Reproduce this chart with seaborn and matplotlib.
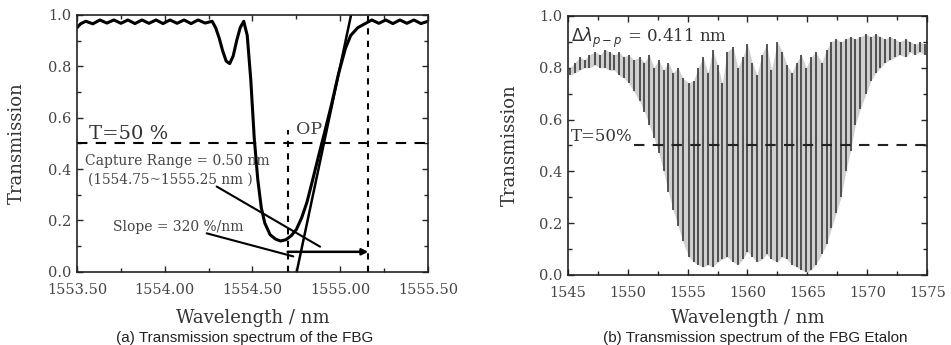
import numpy as np
import pandas as pd
import matplotlib
matplotlib.use('Agg')
import matplotlib.pyplot as plt
from matplotlib.ticker import MultipleLocator
import seaborn as sns

# (a) FBG transmission spectrum
fbg_wl = [1553.50, 1553.52, 1553.55, 1553.59, 1553.63, 1553.67, 1553.71, 1553.75, 1553.79, 1553.83,
          1553.87, 1553.91, 1553.95, 1553.99, 1554.03, 1554.07, 1554.11, 1554.15, 1554.19, 1554.23,
          1554.27, 1554.29, 1554.31, 1554.33, 1554.35, 1554.37, 1554.39, 1554.41, 1554.43, 1554.45,
          1554.47, 1554.49, 1554.51, 1554.53, 1554.55, 1554.57, 1554.60, 1554.63, 1554.66, 1554.69,
          1554.72, 1554.75, 1554.78, 1554.81, 1554.84, 1554.88, 1554.91, 1554.95, 1554.99, 1555.03,
          1555.06, 1555.10, 1555.14, 1555.18, 1555.22, 1555.26, 1555.30, 1555.34, 1555.38, 1555.42,
          1555.46, 1555.50]
fbg_t = [0.95, 0.965, 0.975, 0.965, 0.98, 0.968, 0.98, 0.967, 0.98, 0.966,
         0.98, 0.967, 0.98, 0.966, 0.98, 0.967, 0.98, 0.966, 0.98, 0.968,
         0.975, 0.95, 0.91, 0.86, 0.82, 0.81, 0.84, 0.90, 0.95, 0.975,
         0.92, 0.75, 0.52, 0.36, 0.25, 0.19, 0.145, 0.128, 0.12, 0.125,
         0.14, 0.165, 0.21, 0.27, 0.35, 0.46, 0.54, 0.65, 0.77, 0.87,
         0.92, 0.95, 0.965, 0.98, 0.967, 0.98, 0.966, 0.98, 0.967, 0.98,
         0.966, 0.975]

# slope (tangent) line and capture-range markers
slope_wl = [1554.752, 1555.062]
slope_t = [0.0, 1.0]
capture_wl = [1554.70, 1555.16]
capture_top = [0.55, 1.0]
arrow_t = 0.078

# (b) FBG etalon: fringe positions with peak and dip transmission
etalon_wl = [1545.2, 1545.6, 1546.0, 1546.4, 1546.8, 1547.3, 1547.7, 1548.1, 1548.5, 1548.9,
             1549.3, 1549.7, 1550.1, 1550.5, 1551.0, 1551.4, 1551.8, 1552.2, 1552.6, 1553.0,
             1553.4, 1553.8, 1554.2, 1554.6, 1555.1, 1555.5, 1555.9, 1556.3, 1556.7, 1557.1,
             1557.5, 1557.9, 1558.3, 1558.8, 1559.2, 1559.6, 1560.0, 1560.4, 1560.8, 1561.2,
             1561.6, 1562.0, 1562.5, 1562.9, 1563.3, 1563.7, 1564.1, 1564.5, 1564.9, 1565.3,
             1565.7, 1566.2, 1566.6, 1567.0, 1567.4, 1567.8, 1568.2, 1568.6, 1569.0, 1569.4,
             1569.9, 1570.3, 1570.7, 1571.1, 1571.5, 1571.9, 1572.3, 1572.7, 1573.2, 1573.6,
             1574.0, 1574.4, 1574.8]
etalon_top = [0.80, 0.82, 0.84, 0.83, 0.85, 0.86, 0.85, 0.87, 0.86, 0.85,
              0.86, 0.84, 0.85, 0.83, 0.84, 0.82, 0.85, 0.80, 0.83, 0.79,
              0.82, 0.78, 0.80, 0.76, 0.74, 0.75, 0.80, 0.84, 0.78, 0.87,
              0.81, 0.74, 0.86, 0.88, 0.80, 0.84, 0.89, 0.82, 0.77, 0.85,
              0.89, 0.79, 0.90, 0.86, 0.81, 0.78, 0.82, 0.85, 0.80, 0.84,
              0.86, 0.82, 0.87, 0.90, 0.91, 0.90, 0.91, 0.92, 0.91, 0.92,
              0.93, 0.92, 0.93, 0.92, 0.91, 0.92, 0.91, 0.90, 0.91, 0.90,
              0.89, 0.90, 0.89]
etalon_bottom = [0.77, 0.78, 0.79, 0.80, 0.80, 0.81, 0.80, 0.80, 0.79, 0.79,
                 0.77, 0.76, 0.74, 0.71, 0.67, 0.63, 0.58, 0.53, 0.47, 0.40,
                 0.32, 0.25, 0.19, 0.13, 0.07, 0.05, 0.04, 0.03, 0.04, 0.03,
                 0.05, 0.06, 0.07, 0.05, 0.04, 0.06, 0.09, 0.07, 0.05, 0.06,
                 0.08, 0.06, 0.05, 0.07, 0.06, 0.04, 0.03, 0.02, 0.01, 0.02,
                 0.04, 0.08, 0.12, 0.18, 0.24, 0.30, 0.40, 0.48, 0.58, 0.64,
                 0.70, 0.75, 0.78, 0.80, 0.82, 0.83, 0.84, 0.85, 0.84, 0.86,
                 0.85, 0.86, 0.85]

fbg = pd.DataFrame({'wl': fbg_wl, 't': fbg_t})
etalon = pd.DataFrame({'wl': etalon_wl, 'top': etalon_top, 'bottom': etalon_bottom})

sns.set_style('ticks')
plt.rcParams['font.family'] = ['DejaVu Serif']

fig = plt.figure(figsize=(9.51, 3.45), dpi=100)
ax1 = fig.add_axes([0.081, 0.212, 0.369, 0.745])
ax2 = fig.add_axes([0.597, 0.203, 0.378, 0.751])

label_font = dict(family='DejaVu Serif', fontsize=13, color='#333333')
cap_font = dict(family='Liberation Sans', fontsize=11, color='#222222')
note_color = '#444444'

# ---- panel (a)
sns.lineplot(data=fbg, x='wl', y='t', color='black', lw=2.2, ax=ax1,
             estimator=None, sort=False)
ax1.plot(slope_wl, slope_t, color='black', lw=1.8)
ax1.axhline(0.5, color='black', lw=1.5, ls=(0, (5, 4)))
ax1.vlines(capture_wl, 0, capture_top, color='black', lw=1.5, ls=(0, (3, 3)))
ax1.annotate('', xy=(capture_wl[1], arrow_t), xytext=(capture_wl[0], arrow_t),
             arrowprops=dict(arrowstyle='-|>', color='black', lw=1.8, mutation_scale=9,
                             shrinkA=0, shrinkB=0))
ax1.plot([1554.296, 1554.885], [0.332, 0.098], color='black', lw=1.5)
ax1.plot([1554.239, 1554.733], [0.150, 0.060], color='black', lw=1.5)
ax1.text(1553.57, 0.50, 'T=50 %', fontsize=14, color='#333333', va='bottom')
ax1.text(1554.75, 0.52, 'OP', fontsize=12.5, color=note_color, va='bottom')
ax1.text(1553.545, 0.43, 'Capture Range = 0.50 nm', fontsize=10, color=note_color, va='center')
ax1.text(1553.56, 0.36, '(1554.75~1555.25 nm )', fontsize=9.8, color=note_color, va='center')
ax1.text(1553.705, 0.175, 'Slope = 320 %/nm', fontsize=10, color=note_color, va='center')

ax1.set_xlim(1553.5, 1555.5)
ax1.set_ylim(0, 1.0)
ax1.xaxis.set_major_locator(MultipleLocator(0.5))
ax1.xaxis.set_minor_locator(MultipleLocator(0.25))
ax1.set_xticks([1553.5, 1554.0, 1554.5, 1555.0, 1555.5])
ax1.set_xticklabels(['1553.50', '1554.00', '1554.50', '1555.00', '1555.50'])
ax1.set_xlabel('Wavelength / nm', **label_font)
ax1.set_ylabel('Transmission', **label_font)
ax1.xaxis.set_label_coords(0.5, -0.145)
ax1.yaxis.set_label_coords(-0.145, 0.5)
fig.text(0.257, 0.02, '(a) Transmission spectrum of the FBG', ha='center', va='center', **cap_font)

# ---- panel (b)
ax2.fill_between(etalon['wl'], etalon['bottom'], etalon['top'], color='#cfcfcf', lw=0)
ax2.vlines(etalon['wl'], etalon['bottom'], etalon['top'], color='#3a3a3a', lw=1.2)
ax2.hlines(0.5, 1550.5, 1575, color='#222222', lw=1.5, ls=(0, (5, 4)))
ax2.text(1545.3, 0.50, 'T=50%', fontsize=12, color='#333333', va='bottom')
ax2.text(1545.3, 0.87, r'$\Delta\lambda_{p-p}$ = 0.411 nm', fontsize=12, color='#333333', va='bottom')

ax2.set_xlim(1545, 1575)
ax2.set_ylim(0, 1.0)
ax2.xaxis.set_major_locator(MultipleLocator(5))
ax2.xaxis.set_minor_locator(MultipleLocator(2.5))
ax2.set_xlabel('Wavelength / nm', **label_font)
ax2.set_ylabel('Transmission', **label_font)
ax2.xaxis.set_label_coords(0.5, -0.131)
ax2.yaxis.set_label_coords(-0.136, 0.5)
fig.text(0.794, 0.02, '(b) Transmission spectrum of the FBG Etalon', ha='center', va='center', **cap_font)

for ax in (ax1, ax2):
    ax.set_yticks([0, 0.2, 0.4, 0.6, 0.8, 1.0])
    ax.set_yticklabels(['0.0', '0.2', '0.4', '0.6', '0.8', '1.0'])
    ax.yaxis.set_minor_locator(MultipleLocator(0.1))
    ax.tick_params(which='both', direction='in', top=True, right=True, labelsize=10.5,
                   labelcolor='#444444', length=4, width=1)
    ax.tick_params(which='minor', length=3)
    ax.tick_params(axis='x', pad=8)
    ax.tick_params(axis='y', pad=4)
    for s in ax.spines.values():
        s.set_linewidth(1.2)
        s.set_color('#222222')

fig.savefig('out.png', dpi=100)
